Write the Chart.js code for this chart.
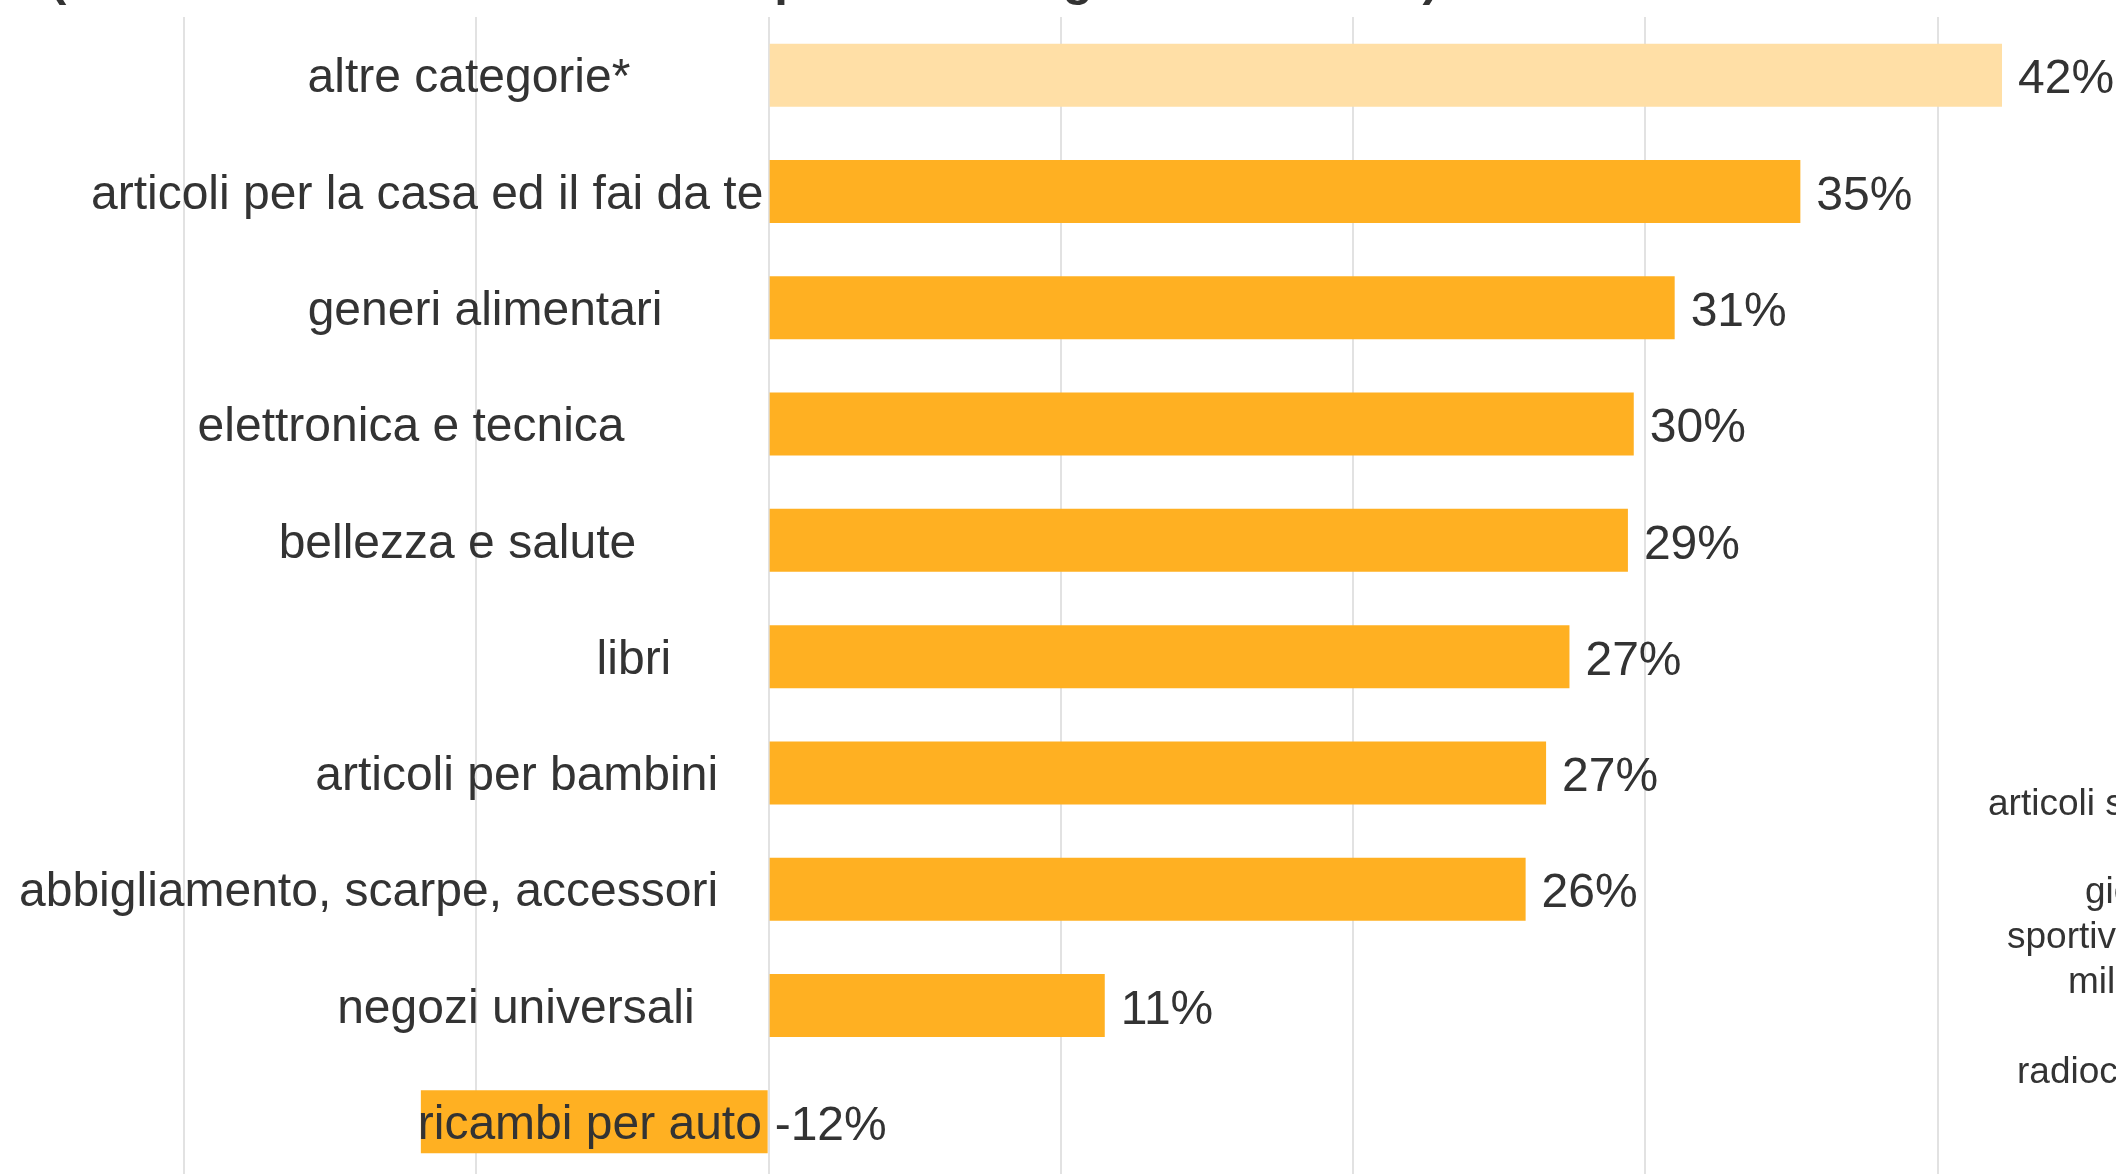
<!DOCTYPE html>
<html>
<head>
<meta charset="utf-8">
<script src="https://cdn.jsdelivr.net/npm/chart.js@4"></script>
<style>
  html, body { margin: 0; padding: 0; background: #ffffff; overflow: hidden; }
  #wrap { position: absolute; left: 0; top: 0; width: 2116px; height: 1180px; }
</style>
</head>
<body>
<div id="wrap"><canvas id="c" width="2116" height="1180"></canvas></div>
<script>
// ---- data ----
const categories = [
  "altre categorie*",
  "articoli per la casa ed il fai da te",
  "generi alimentari",
  "elettronica e tecnica",
  "bellezza e salute",
  "libri",
  "articoli per bambini",
  "abbigliamento, scarpe, accessori",
  "negozi universali",
  "ricambi per auto"
];
const values = [42.2, 35.3, 31.0, 29.6, 29.4, 27.4, 26.6, 25.9, 11.5, -11.9];
const valueLabels = ["42%", "35%", "31%", "30%", "29%", "27%", "27%", "26%", "11%", "-12%"];
const titleText = "(variazione del fatturato online per una categoria nel 2021 *)";
const sideTexts = ["articoli sportivi", "giocattoli,", "sportivi e", "militari", "radiocomandati"];

// ---- layout / style (not data) ----
const labelEnds = [-4.8, -0.25, -3.7, -5.0, -4.6, -3.4, -1.8, -1.8, -2.6, -0.3]; // right end of each category label, axis units
const sidePos = [[1988, 815], [2085, 903], [2007, 948], [2068, 993], [2017, 1083]];
const FONT = '"Liberation Sans", Arial, sans-serif';
const TEXT = '#333333';
const ORANGE = '#FFB022';
const LIGHT = '#FFDFA6';

const labelsPlugin = {
  id: 'labelsPlugin',
  afterDatasetsDraw(chart) {
    const ctx = chart.ctx;
    const meta = chart.getDatasetMeta(0);
    const xs = chart.scales.x;
    ctx.save();
    ctx.fillStyle = TEXT;
    ctx.font = '48px ' + FONT;
    ctx.textBaseline = 'middle';
    meta.data.forEach((bar, i) => {
      const v = values[i];
      ctx.textAlign = 'left';
      const x = v >= 0 ? bar.x + 16 : bar.base + 7;
      ctx.fillText(valueLabels[i], x, bar.y + 5);
      ctx.textAlign = 'right';
      ctx.fillText(categories[i], xs.getPixelForValue(labelEnds[i]) + 2, bar.y + 4);
    });
    // title (mostly outside the visible area)
    ctx.textAlign = 'left';
    ctx.textBaseline = 'alphabetic';
    ctx.font = 'bold 49px ' + FONT;
    ctx.fillText(titleText, 50, -5);
    // neighbouring labels at right edge
    ctx.font = '37px ' + FONT;
    sideTexts.forEach((t, i) => ctx.fillText(t, sidePos[i][0], sidePos[i][1]));
    ctx.restore();
  }
};

new Chart(document.getElementById('c'), {
  type: 'bar',
  data: {
    labels: categories,
    datasets: [{
      data: values,
      backgroundColor: (c) => c.dataIndex === 0 ? LIGHT : ORANGE,
      borderWidth: 0,
      categoryPercentage: 1.0,
      barPercentage: 0.542
    }]
  },
  options: {
    indexAxis: 'y',
    responsive: false,
    animation: false,
    layout: { padding: { top: 17, bottom: 0, left: 0, right: 0 } },
    plugins: { legend: { display: false }, tooltip: { enabled: false }, title: { display: false } },
    scales: {
      x: {
        min: -26.3,
        max: 46.1,
        ticks: { display: false, stepSize: 10 },
        border: { display: false },
        grid: { color: '#e2e2e2', lineWidth: 2, drawTicks: false },
        afterBuildTicks: (s) => { s.ticks = s.ticks.filter(t => Math.abs(t.value % 10) < 1e-6); },
        afterFit: (s) => { s.height = 0; }
      },
      y: {
        display: false,
        grid: { display: false }
      }
    }
  },
  plugins: [labelsPlugin]
});
</script>
</body>
</html>
